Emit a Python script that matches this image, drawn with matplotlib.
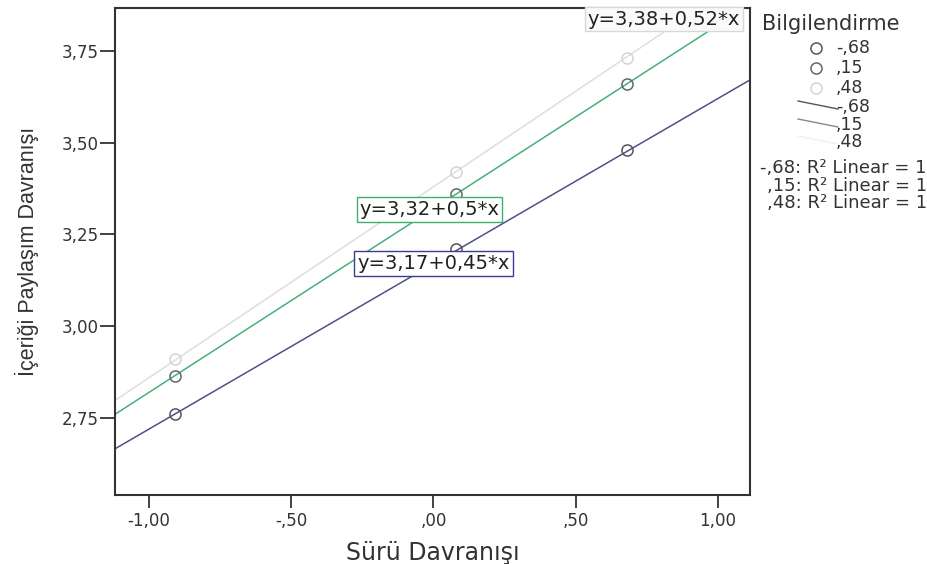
import numpy as np
import matplotlib.pyplot as plt
from matplotlib.lines import Line2D

# Bilgilendirme groups
gruplar = ["-,68", ",15", ",48"]
x_nokta = [-0.91, 0.08, 0.68]
y_nokta = [
    [2.76, 3.21, 3.48],
    [2.865, 3.36, 3.66],
    [2.91, 3.42, 3.73],
]
kesisim = [3.17, 3.32, 3.38]
egim = [0.45, 0.50, 0.52]
denklemler = ["y=3,17+0,45*x", "y=3,32+0,5*x", "y=3,38+0,52*x"]

x_ticks = [-1.0, -0.5, 0.0, 0.5, 1.0]
x_ticklabels = ["-1,00", "-,50", ",00", ",50", "1,00"]
y_ticks = [2.75, 3.00, 3.25, 3.50, 3.75]
y_ticklabels = ["2,75", "3,00", "3,25", "3,50", "3,75"]

cizgi_renk = ["#50508a", "#45b07c", "#dedede"]
nokta_renk = ["#555555", "#666666", "#d4d4d4"]
kutu_renk = ["#3c3c8c", "#3cb070", "#d8d8d8"]

plt.rcParams['font.family'] = ['DejaVu Sans']
yazi = '#333333'

fig = plt.figure(figsize=(9.28, 5.64), dpi=100)
ax = fig.add_axes([0.124, 0.1223, 0.684, 0.8635])

xlim = (-1.12, 1.113)
ylim = (2.54, 3.867)
xx = np.array(xlim)

for i in range(3):
    ax.plot(xx, kesisim[i] + egim[i] * xx, color=cizgi_renk[i], lw=1.1, zorder=2)
    ax.plot(x_nokta, y_nokta[i], 'o', mfc='none', mec=nokta_renk[i], ms=8, mew=1.1, zorder=3)

# equation labels
ax.text(0.0, 3.17, denklemler[0], fontsize=14, ha='center', va='center', zorder=5, color='#222222',
        bbox=dict(boxstyle='square,pad=0.15', fc='white', ec=kutu_renk[0], lw=1))
ax.text(-0.014, 3.317, denklemler[1], fontsize=14, ha='center', va='center', zorder=5, color='#222222',
        bbox=dict(boxstyle='square,pad=0.15', fc='white', ec=kutu_renk[1], lw=1))
ax.text(0.81, 3.837, denklemler[2], fontsize=14, ha='center', va='center', zorder=5, color='#222222',
        bbox=dict(boxstyle='square,pad=0.15', fc='#fafafa', ec=kutu_renk[2], lw=1))

ax.set_xlim(*xlim)
ax.set_ylim(*ylim)
ax.set_xticks(x_ticks)
ax.set_xticklabels(x_ticklabels, fontsize=12, color=yazi)
ax.set_yticks(y_ticks)
ax.set_yticklabels(y_ticklabels, fontsize=12, color=yazi)
ax.tick_params(axis='y', direction='out', length=11, width=1.3, color=yazi, pad=1)
ax.tick_params(axis='x', direction='out', length=9, width=1.3, color=yazi, pad=3)
for s in ax.spines.values():
    s.set_linewidth(1.5)
    s.set_color(yazi)

ax.set_xlabel("Sürü Davranışı", fontsize=17, color=yazi, labelpad=8)
ax.set_ylabel("İçeriği Paylaşım Davranışı", fontsize=15.5, color=yazi,
              family=['Liberation Sans Narrow', 'Liberation Sans'], labelpad=16)

# legend drawn by hand on the right
W, H = 928, 564
def fx(px):
    return px / W
def fy(py):
    return 1 - py / H

fig.text(fx(831), fy(24), "Bilgilendirme", fontsize=15, ha='center', va='center', color=yazi)
satir_y = [48, 68, 88, 107, 125, 142]
for j in range(3):
    fig.add_artist(Line2D([fx(816)], [fy(satir_y[j])], marker='o', mfc='none',
                          mec=nokta_renk[j], ms=8, mew=1.1, transform=fig.transFigure))
    fig.text(fx(836), fy(satir_y[j]), gruplar[j], fontsize=12.5, va='center', color=yazi)
for j in range(3):
    yy = satir_y[3 + j]
    fig.add_artist(Line2D([fx(798), fx(838)], [fy(yy - 6), fy(yy + 2)],
                          color=['#555555', '#888888', '#f0f0f0'][j], lw=1,
                          transform=fig.transFigure))
    fig.text(fx(836), fy(yy), gruplar[j], fontsize=12.5, va='center', color=yazi)
r2_y = [168, 186, 203]
for j in range(3):
    fig.text(fx(927), fy(r2_y[j]), gruplar[j] + ": R² Linear = 1", fontsize=13,
             ha='right', va='center', color=yazi)

fig.savefig("out.png", dpi=100)
